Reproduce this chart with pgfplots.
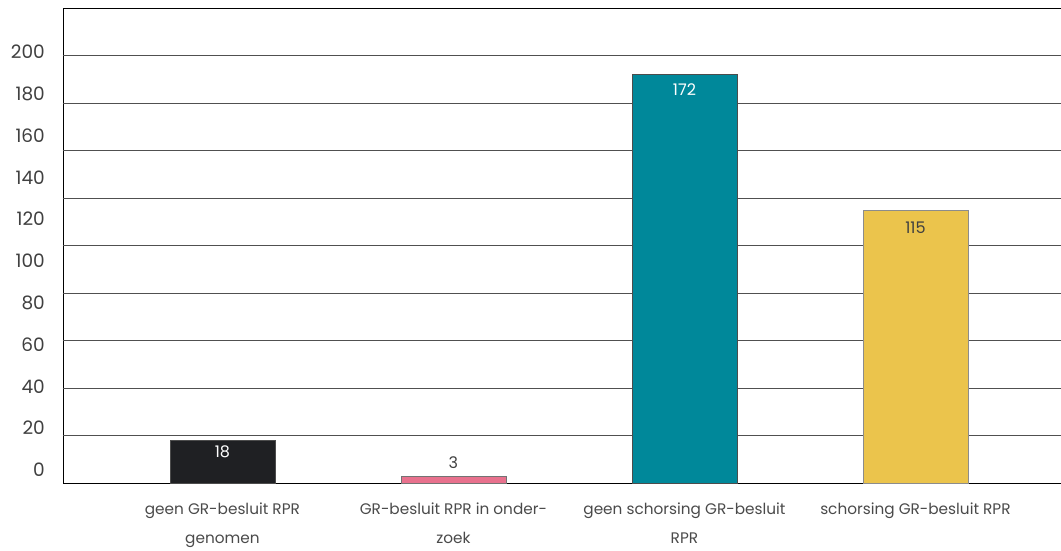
\documentclass[border=0pt]{standalone}
\usepackage{fontspec}
\setmainfont{Poppins}
\usepackage{pgfplots}
\pgfplotsset{compat=1.18}
\definecolor{cblack}{HTML}{1F2023}
\definecolor{cpink}{HTML}{E8718D}
\definecolor{cteal}{HTML}{00889A}
\definecolor{cyellow}{HTML}{EBC44C}
\definecolor{txt}{HTML}{404040}
\definecolor{cattxt}{HTML}{4A4A4A}
\definecolor{gridc}{HTML}{505050}
\begin{document}
\begin{tikzpicture}
\begin{axis}[
  scale only axis, width=998pt, height=475pt,
  xmin=-0.69, xmax=3.63, ymin=0, ymax=200,
  axis line style={black, line width=0.8pt},
  major tick length=0pt,
  xtick={0,1,2,3},
  xticklabels={{geen GR-besluit RPR\\genomen},{GR-besluit RPR in onder-\\zoek},{geen schorsing GR-besluit\\RPR},{schorsing GR-besluit RPR}},
  xticklabel style={align=center, font=\fontsize{15.3}{29}\selectfont, text=cattxt, inner sep=0pt, yshift=-20pt},
  ytick={5.5,23.1,40.7,58.3,75.9,93.5,111.1,128.7,146.3,163.9,181.5},
  yticklabels={0,20,40,60,80,100,120,140,160,180,200},
  yticklabel style={font=\fontsize{18.5}{19}\selectfont, text=txt, inner sep=0pt, xshift=-18pt},
  extra y ticks={20,40,60,80,100,120,140,160,180},
  extra y tick labels={},
  extra y tick style={grid=major, major grid style={gridc, line width=0.8pt}},
  ybar, bar width=0.4545, bar shift=0pt,
  /pgf/number format/assume math mode=true,
  nodes near coords,
  every node near coord/.append style={font=\fontsize{16}{16}\selectfont, anchor=center},
  clip=false,
]
\addplot[fill=cblack, draw=black!70, line width=0.6pt, every node near coord/.append style={text=white, yshift=-12pt}] coordinates {(0,18)};
\addplot[fill=cpink, draw=black!55, line width=0.6pt, every node near coord/.append style={text=txt, yshift=13pt}] coordinates {(1,3)};
\addplot[fill=cteal, draw=black!70, line width=0.6pt, every node near coord/.append style={text=white, yshift=-15pt}] coordinates {(2,172)};
\addplot[fill=cyellow, draw=black!45, line width=0.6pt, every node near coord/.append style={text=txt, yshift=-18pt}] coordinates {(3,115)};
\coordinate (sw) at (rel axis cs:0,0);
\end{axis}
\pgfresetboundingbox
\path[use as bounding box] ([shift={(-63pt,-68pt)}]sw) rectangle ++(1061pt,551pt);
\end{tikzpicture}
\end{document}
